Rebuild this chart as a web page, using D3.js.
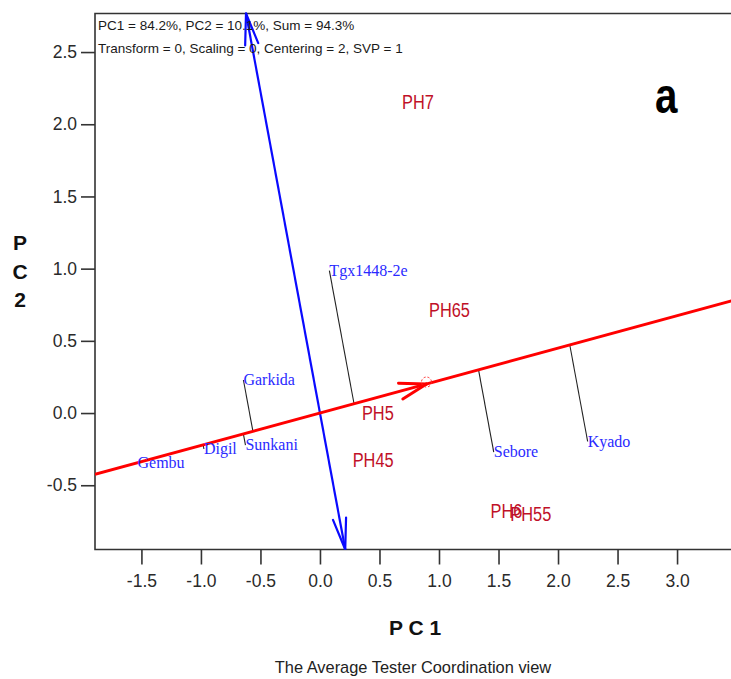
<!DOCTYPE html>
<html>
<head>
<meta charset="utf-8">
<script src="https://cdn.jsdelivr.net/npm/d3@7/dist/d3.min.js"></script>
<style>
  html, body { margin: 0; padding: 0; background: #fff; }
  svg { display: block; }
</style>
</head>
<body>
<svg id="chart" width="731" height="679"></svg>
<script>
// ---------------- data ----------------
const genotypes = ["Garkida", "Tgx1448-2e", "Sebore", "Kyado", "Sunkani", "Digil", "Gembu"];
const genoPC1 = [-0.643, 0.079, 1.460, 2.249, -0.626, -0.975, -1.533];
const genoPC2 = [0.229, 0.987, -0.270, -0.197, -0.222, -0.249, -0.346];

const environments = ["PH7", "PH65", "PH5", "PH45", "PH6", "PH55"];
const envPC1 = [0.823, 1.088, 0.486, 0.447, 1.567, 1.771];
const envPC2 = [2.157, 0.711, -0.002, -0.328, -0.677, -0.696];

const averageEnv = [0.895, 0.201];          // average tester coordinate (PC1, PC2)

const xTicks = [-1.5, -1.0, -0.5, 0.0, 0.5, 1.0, 1.5, 2.0, 2.5, 3.0];
const xTickLabels = ["-1.5", "-1.0", "-0.5", "0.0", "0.5", "1.0", "1.5", "2.0", "2.5", "3.0"];
const yTicks = [-0.5, 0.0, 0.5, 1.0, 1.5, 2.0, 2.5];
const yTickLabels = ["-0.5", "0.0", "0.5", "1.0", "1.5", "2.0", "2.5"];

const xDomain = [-1.89, 3.47];
const yDomain = [-0.945, 2.767];

const headerLines = [
  "PC1 = 84.2%, PC2 = 10.1%, Sum = 94.3%",
  "Transform = 0, Scaling = 0, Centering = 2, SVP = 1"
];
const xTitle = "P C 1";
const yTitleLetters = ["P", "C", "2"];
const caption = "The Average Tester Coordination view";
const panelLetter = "a";

// ---------------- drawing ----------------
(function () {
const svg = d3.select("#chart");
const pL = 95, pR = 733, pT = 13.5, pB = 549.5;

const x = d3.scaleLinear().domain(xDomain).range([pL, pR]);
const y = d3.scaleLinear().domain(yDomain).range([pB, pT]);

svg.append("defs").append("clipPath").attr("id", "plotclip")
  .append("rect").attr("x", pL).attr("y", pT - 2)
  .attr("width", pR - pL).attr("height", pB - pT + 2);

// frame
svg.append("path")
  .attr("d", `M${pR},${pT}H${pL}V${pB}H${pR}`)
  .attr("fill", "none").attr("stroke", "#333").attr("stroke-width", 1.6);

// axes
const fontSans = "'Liberation Sans', Arial, sans-serif";
const xAxis = svg.append("g").attr("transform", `translate(0,${pB})`)
  .call(d3.axisBottom(x).tickValues(xTicks).tickSize(15).tickPadding(10)
    .tickFormat((d, i) => xTickLabels[i]));
const yAxis = svg.append("g").attr("transform", `translate(${pL},0)`)
  .call(d3.axisLeft(y).tickValues(yTicks).tickSize(14).tickPadding(4)
    .tickFormat((d, i) => yTickLabels[i]));
[xAxis, yAxis].forEach(g => {
  g.select(".domain").remove();
  g.selectAll(".tick line").attr("stroke", "#333").attr("stroke-width", 1.6);
  g.selectAll(".tick text").attr("fill", "#2a2a2a")
    .style("font-family", fontSans).style("font-size", "17.5px");
});

const plot = svg.append("g").attr("clip-path", "url(#plotclip)");

// slope of the average-environment axis
const s = averageEnv[1] / averageEnv[0];

// projection lines genotype -> AEA
genotypes.forEach((g, i) => {
  const gx = genoPC1[i], gy = genoPC2[i];
  const t = (gx + s * gy) / (1 + s * s);
  plot.append("line")
    .attr("x1", x(gx)).attr("y1", y(gy))
    .attr("x2", x(t)).attr("y2", y(s * t))
    .attr("stroke", "#222").attr("stroke-width", 1.1);
});

function arrowHead(g, tip, tail, len, angDeg, color, width) {
  const dx = tip[0] - tail[0], dy = tip[1] - tail[1];
  const L = Math.hypot(dx, dy);
  const ux = -dx / L, uy = -dy / L; // pointing back
  const a = angDeg * Math.PI / 180;
  [a, -a].forEach(th => {
    const rx = ux * Math.cos(th) - uy * Math.sin(th);
    const ry = ux * Math.sin(th) + uy * Math.cos(th);
    g.append("line")
      .attr("x1", tip[0]).attr("y1", tip[1])
      .attr("x2", tip[0] + rx * len).attr("y2", tip[1] + ry * len)
      .attr("stroke", color).attr("stroke-width", width).attr("stroke-linecap", "round");
  });
}

// AEC ordinate (blue) perpendicular through origin
const bTop = [x(-s * yDomain[1]), y(yDomain[1])];
const bBot = [x(-s * yDomain[0]), y(yDomain[0])];
plot.append("line")
  .attr("x1", bTop[0]).attr("y1", bTop[1]).attr("x2", bBot[0]).attr("y2", bBot[1])
  .attr("stroke", "#0a0aff").attr("stroke-width", 2.2);
arrowHead(plot, bTop, bBot, 32, 12, "#0a0aff", 2.2);
arrowHead(plot, bBot, bTop, 32, 12, "#0a0aff", 2.2);

// average-environment axis (red)
plot.append("line")
  .attr("x1", x(xDomain[0])).attr("y1", y(s * xDomain[0]))
  .attr("x2", x(xDomain[1])).attr("y2", y(s * xDomain[1]))
  .attr("stroke", "#ff0000").attr("stroke-width", 3);
const aTip = [x(averageEnv[0]), y(averageEnv[1])];
arrowHead(plot, aTip, [x(0), y(0)], 28, 17, "#ff0000", 3);
plot.append("circle").attr("cx", aTip[0]).attr("cy", aTip[1] - 2).attr("r", 5)
  .attr("fill", "none").attr("stroke", "#ff2020").attr("stroke-width", 1)
  .attr("stroke-dasharray", "2,2");

// genotype labels
plot.selectAll("text.geno").data(genotypes).enter().append("text")
  .attr("class", "geno")
  .attr("x", (d, i) => x(genoPC1[i]))
  .attr("y", (d, i) => y(genoPC2[i]))
  .attr("dy", "0.32em")
  .attr("fill", "#2a2aff")
  .style("font-family", "'Liberation Serif', 'Times New Roman', serif")
  .style("font-size", "16px")
  .text(d => d);

// environment labels (narrow sans)
plot.selectAll("text.env").data(environments).enter().append("text")
  .attr("class", "env")
  .attr("transform", (d, i) => `translate(${x(envPC1[i])},${y(envPC2[i])}) scale(0.84,1)`)
  .attr("dy", "0.36em")
  .attr("text-anchor", "middle")
  .attr("fill", "#c01028")
  .style("font-family", fontSans)
  .style("font-size", "19.5px")
  .text(d => d);

// header text
svg.selectAll("text.hdr").data(headerLines).enter().append("text")
  .attr("class", "hdr")
  .attr("x", 98).attr("y", (d, i) => 30 + i * 22.5)
  .attr("fill", "#1a1a1a")
  .style("font-family", fontSans).style("font-size", "13.5px")
  .text(d => d);

// panel letter
svg.append("text")
  .attr("transform", "translate(655,113) scale(0.84,1.05)")
  .attr("fill", "#000")
  .style("font-family", fontSans)
  .style("font-weight", "bold").style("font-size", "48px")
  .text(panelLetter);

// axis titles
svg.append("text").attr("x", 415).attr("y", 635)
  .attr("text-anchor", "middle").attr("fill", "#111")
  .style("font-family", fontSans).style("font-weight", "bold").style("font-size", "21px")
  .text(xTitle);
svg.selectAll("text.ytitle").data(yTitleLetters).enter().append("text")
  .attr("class", "ytitle")
  .attr("x", 20).attr("y", (d, i) => 250 + i * 28.5)
  .attr("text-anchor", "middle").attr("fill", "#111")
  .style("font-family", fontSans).style("font-weight", "bold").style("font-size", "21px")
  .text(d => d);

// caption
svg.append("text").attr("x", 413).attr("y", 673)
  .attr("text-anchor", "middle").attr("fill", "#222")
  .style("font-family", fontSans).style("font-size", "16.4px")
  .text(caption);
})();
</script>
</body>
</html>
